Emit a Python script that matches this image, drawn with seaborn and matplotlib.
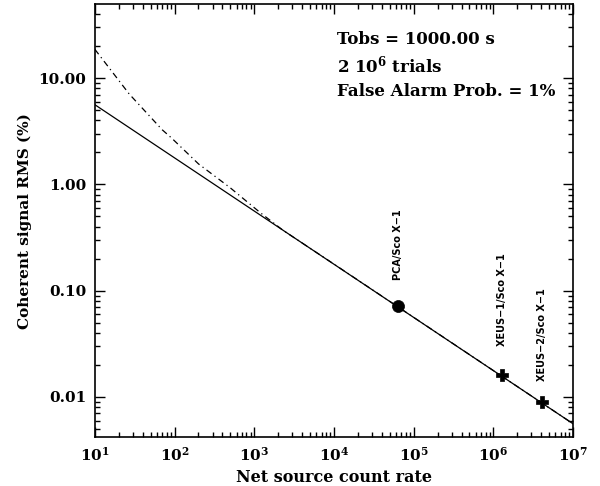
import numpy as np
import pandas as pd
import seaborn as sns
import matplotlib.pyplot as plt
from matplotlib.ticker import LogLocator, FixedLocator, FuncFormatter, NullFormatter

# Solid curve (straight in log-log)
rate_solid = [10, 1e7]
rms_solid = [5.63, 0.0056]

# Dash-dot curve
rate_dd = [10, 27, 70, 92, 200, 500, 1200, 2300, 1e4, 1e7]
rms_dd = [18.7, 7.1, 3.27, 2.73, 1.56, 0.93, 0.54, 0.37, 0.178, 0.0056]

# Sources
src_names = ['PCA/Sco X\u22121', 'XEUS\u22121/Sco X\u22121', 'XEUS\u22122/Sco X\u22121']
src_rate = [6.4e4, 1.29e6, 4.1e6]
src_rms = [0.0719, 0.0162, 0.00906]
src_marker = ['o', 'P', 'P']
label_pad = [19, 21, 15]

y_ticks = [10, 1, 0.1, 0.01]
y_labels = ['10.00', '1.00', '0.10', '0.01']
info_lines = ['Tobs = 1000.00 s', r'2 10$^{6}$ trials', 'False Alarm Prob. = 1%']

sns.set_style('ticks')
plt.rcParams['font.family'] = ['DejaVu Serif']
plt.rcParams['font.weight'] = 'bold'
plt.rcParams['axes.labelweight'] = 'bold'
plt.rcParams['mathtext.fontset'] = 'dejavuserif'
plt.rcParams['mathtext.default'] = 'bf'
for k in ['text.color', 'axes.labelcolor', 'xtick.color', 'ytick.color', 'axes.edgecolor']:
    plt.rcParams[k] = 'black'

fig = plt.figure(figsize=(6, 4.86), dpi=100)
ax = fig.add_axes([0.158, 0.1008, 0.797, 0.8903])

df_solid = pd.DataFrame({'rate': rate_solid, 'rms': rms_solid})
df_dd = pd.DataFrame({'rate': rate_dd, 'rms': rms_dd})
sns.lineplot(data=df_solid, x='rate', y='rms', ax=ax, color='black', linewidth=0.9)
sns.lineplot(data=df_dd, x='rate', y='rms', ax=ax, color='black', linewidth=0.9,
             linestyle=(0, (5, 3, 1, 3)))

for name, r, v, m, pad in zip(src_names, src_rate, src_rms, src_marker, label_pad):
    sns.scatterplot(x=[r], y=[v], ax=ax, marker=m, color='black',
                    s=75 if m == 'o' else 70, edgecolor='black', linewidth=0.5, zorder=5)
    ax.annotate(name, (r, v), xytext=(0, pad), textcoords='offset points',
                rotation=90, ha='center', va='bottom', fontsize=7,
                fontweight='bold', family='DejaVu Sans')

ax.set_xscale('log')
ax.set_yscale('log')
ax.set_xlim(10, 1e7)
ax.set_ylim(0.0042, 49.5)

ax.xaxis.set_major_locator(LogLocator(base=10, numticks=10))
ax.xaxis.set_minor_locator(LogLocator(base=10, subs=np.arange(2, 10), numticks=20))
ax.xaxis.set_major_formatter(FuncFormatter(lambda v, p: r'10$^{%d}$' % round(np.log10(v))))
ax.xaxis.set_minor_formatter(NullFormatter())
ax.yaxis.set_major_locator(FixedLocator(y_ticks))
ax.yaxis.set_minor_locator(LogLocator(base=10, subs=np.arange(2, 10), numticks=20))
ax.set_yticklabels(y_labels)
ax.yaxis.set_minor_formatter(NullFormatter())

ax.tick_params(which='both', direction='in', top=True, right=True, width=1.0, labelsize=11, pad=6)
ax.tick_params(which='major', length=7)
ax.tick_params(which='minor', length=3.5)
for s in ax.spines.values():
    s.set_linewidth(1.2)

ax.set_xlabel('Net source count rate', fontsize=11.5, labelpad=4)
ax.set_ylabel('Coherent signal RMS (%)', fontsize=11, labelpad=5)

for i, t in enumerate(info_lines):
    ax.text(0.506, 0.918 - i * 0.060, t, transform=ax.transAxes, fontsize=12,
            fontweight='bold', va='center', ha='left')

fig.savefig('out.png', dpi=100)
